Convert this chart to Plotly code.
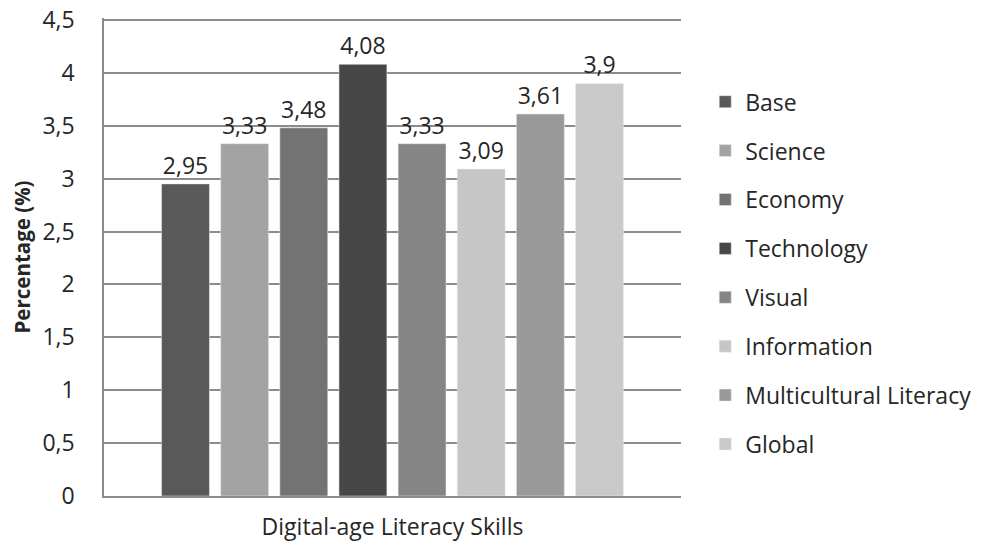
import plotly.graph_objects as go

category = ["Digital-age Literacy Skills"]
series_names = ["Base", "Science", "Economy", "Technology", "Visual",
                "Information", "Multicultural Literacy", "Global"]
series_values = [2.95, 3.33, 3.48, 4.08, 3.33, 3.09, 3.61, 3.9]
series_colors = ["#595959", "#a3a3a3", "#737373", "#474747", "#858585",
                 "#c6c6c6", "#999999", "#c9c9c9"]
y_tick_vals = [0, 0.5, 1, 1.5, 2, 2.5, 3, 3.5, 4, 4.5]

FONT = "Open Sans"
TXT = "#262626"

fig = go.Figure()
for name, val, col in zip(series_names, series_values, series_colors):
    fig.add_trace(go.Bar(
        x=category, y=[val], name=name, marker_color=col,
        text=[val], texttemplate="%{y}", textposition="outside",
        constraintext="none",
        textfont=dict(family=FONT, size=23, color=TXT),
        cliponaxis=False, legendgroup=name,
    ))

fig.update_layout(
    width=982, height=544,
    margin=dict(l=96, r=309, t=10, b=56, autoexpand=False),
    plot_bgcolor="white", paper_bgcolor="white",
    barmode="group", bargap=0.18, bargroupgap=0.19,
    separators=", ",
    font=dict(family=FONT, size=23, color=TXT),
    legend=dict(x=1.042, xanchor="left", y=0.466, yanchor="middle",
                font=dict(family=FONT, size=23, color=TXT),
                tracegroupgap=16, itemwidth=30),
    showlegend=True,
)
fig.update_yaxes(
    range=[0, 4.518], tickvals=y_tick_vals, automargin=False,
    ticklabeloverflow="allow",
    showgrid=True, gridcolor="#8c8c8c", gridwidth=1.5,
    showline=True, linecolor="#8c8c8c", linewidth=1.5,
    ticklabelstandoff=23, zeroline=False,
    tickfont=dict(family=FONT, size=23, color=TXT),
    title=dict(text="<b>Percentage (%)</b>", font=dict(family=FONT, size=20.5, color=TXT), standoff=10),
)
fig.update_xaxes(
    showline=True, linecolor="#8c8c8c", linewidth=1.5, automargin=False,
    ticklabelstandoff=10,
    tickfont=dict(family=FONT, size=23, color=TXT),
)

fig.write_html("out.html")
